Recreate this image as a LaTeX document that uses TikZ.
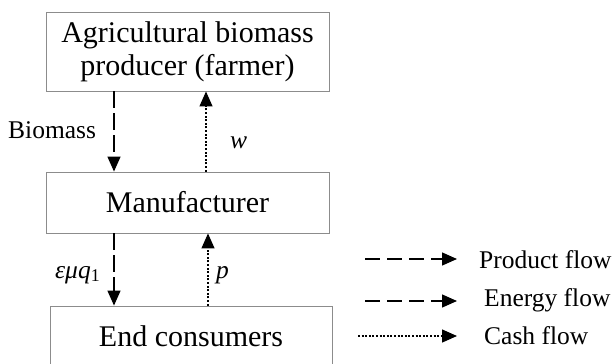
\documentclass[tikz,border=0pt]{standalone}
\usepackage{fontspec}
\setmainfont{Liberation Serif}
\usetikzlibrary{arrows.meta}
\begin{document}
\begin{tikzpicture}[x=1pt,y=-1pt,
  box/.style={draw=black!45, line width=0.9pt, align=center, inner sep=0pt,
    font=\fontsize{30}{33}\selectfont},
  lbl/.style={font=\fontsize{25.5}{28}\selectfont, inner sep=0pt},
  tip/.style={-{Triangle[length=15pt,width=13pt]}},
  prodflow/.style={tip, line width=1.4pt, dash pattern=on 17pt off 5pt},
  legdash/.style={tip, line width=1.4pt, dash pattern=on 15pt off 7pt},
  cashflow/.style={tip, line width=1.3pt, dash pattern=on 2pt off 1.6pt}]
\useasboundingbox (0,0) rectangle (613,364);
\clip (0,0) rectangle (613,364);
\node[box, minimum width=283pt, minimum height=79pt] (farmer) at (187.5,51.5) {Agricultural biomass\\producer (farmer)};
\node[box, minimum width=283pt, minimum height=61pt] (manu) at (187.5,202.5) {Manufacturer};
\node[box, minimum width=282pt, minimum height=61pt] (cons) at (191,336.5) {End consumers};
% flows between farmer and manufacturer
\draw[prodflow] ([xshift=-73.5pt]farmer.south) -- ([xshift=-73.5pt]farmer.south |- manu.north);
\draw[cashflow] ([xshift=18.5pt]farmer.south |- manu.north) -- ([xshift=18.5pt]farmer.south);
% flows between manufacturer and consumers
\draw[prodflow] ([xshift=-73.5pt]manu.south) -- ([xshift=-73.5pt]manu.south |- cons.north);
\draw[cashflow] ([xshift=20.5pt]manu.south |- cons.north) -- ([xshift=20.5pt]manu.south);
% labels
\node[lbl, anchor=base west] (lbio) at (8,138) {Biomass};
\node[lbl, anchor=base west] (lw) at (230,148) {\itshape w};
\node[lbl, anchor=base west] (leps) at (55,278) {\itshape εμq\textsubscript{\upshape 1}};
\node[lbl, anchor=base west] (lp) at (216,278) {\itshape p};
% legend
\coordinate (a1) at (365,259); \coordinate (b1) at (457,259);
\coordinate (a2) at (365,301); \coordinate (b2) at (457,301);
\coordinate (a3) at (358,336); \coordinate (b3) at (457,336);
\draw[legdash] (a1) -- (b1);
\draw[legdash] (a2) -- (b2);
\draw[cashflow] (a3) -- (b3);
\node[lbl, anchor=base west] (t1) at (479,268) {Product flow};
\node[lbl, anchor=base west] (t2) at (484,306) {Energy flow};
\node[lbl, anchor=base west] (t3) at (484,344) {Cash flow};
\end{tikzpicture}
\end{document}
